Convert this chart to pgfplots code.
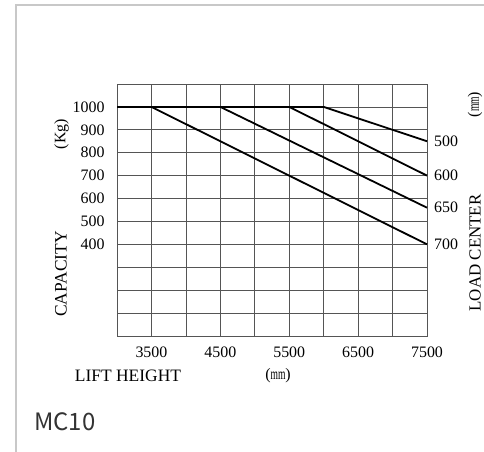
\documentclass[border=0pt]{standalone}
\usepackage{pgfplots}
\pgfplotsset{compat=1.18}
\usepackage{fontspec}
\setmainfont{Liberation Serif}
\newfontfamily\cardfont{Noto Sans CJK SC}
\definecolor{gridc}{HTML}{555555}
\definecolor{cardline}{HTML}{C8C8C8}

\begin{document}
\begin{tikzpicture}[x=1bp,y=1bp]
\path[use as bounding box] (0,0) rectangle (484,452);
% card border
\draw[cardline, line width=1.8bp] (16,0) -- (16,447) -- (484,447);

\begin{axis}[
    at={(117bp,116bp)}, anchor=south west,
    width=310bp, height=252bp, scale only axis,
    xmin=3000, xmax=7500, ymin=0, ymax=1100,
    xtick={3500,4500,5500,6500,7500},
    xticklabels={3500,4500,5500,6500,7500},
    minor xtick={3000,4000,5000,6000,7000},
    ytick={400,500,600,700,800,900,1000},
    yticklabels={400,500,600,700,800,900,1000},
    minor ytick={0,100,200,300,1100},
    grid=both,
    grid style={gridc, line width=0.7bp},
    minor grid style={gridc, line width=0.7bp},
    axis line style={gridc, line width=0.7bp},
    major tick length=0pt, minor tick length=0pt,
    /pgf/number format/assume math mode=true,
    tick label style={font=\fontsize{16}{16}\selectfont},
    yticklabel style={xshift=-9bp},
    xticklabel style={yshift=-7bp},
    clip=false,
]
\addplot[black, line width=1.8bp] coordinates {(3000,1000) (6000,1000)};
\addplot[black, line width=1.8bp] coordinates {(3500,1000) (7500,400)};
\addplot[black, line width=1.8bp] coordinates {(4500,1000) (7500,560)};
\addplot[black, line width=1.8bp] coordinates {(5500,1000) (7500,700)};
\addplot[black, line width=1.8bp] coordinates {(6000,1000) (7500,850)};

\node[anchor=west, font=\fontsize{16}{16}\selectfont, inner sep=0pt] at (axis cs:7500,850) [xshift=7bp] {500};
\node[anchor=west, font=\fontsize{16}{16}\selectfont, inner sep=0pt] at (axis cs:7500,700) [xshift=7bp] {600};
\node[anchor=west, font=\fontsize{16}{16}\selectfont, inner sep=0pt] at (axis cs:7500,560) [xshift=7bp] {650};
\node[anchor=west, font=\fontsize{16}{16}\selectfont, inner sep=0pt] at (axis cs:7500,400) [xshift=7bp] {700};
\end{axis}

% axis titles
\node[rotate=90, font=\fontsize{17.5}{17.5}\selectfont, inner sep=0pt] at (61,178) {CAPACITY};
\node[rotate=90, font=\fontsize{16}{16}\selectfont, inner sep=0pt] at (61.5,318) {(Kg)};
\node[rotate=90, font=\fontsize{17}{17}\selectfont, inner sep=0pt] at (475,199) {LOAD CENTER};
\node[rotate=90, font=\fontsize{16}{16}\selectfont, inner sep=0pt] at (475,347.5) {(\scalebox{0.6}[1]{mm})};
\node[font=\fontsize{17.5}{17.5}\selectfont, inner sep=0pt] at (128,76) {LIFT HEIGHT};
\node[font=\fontsize{16}{16}\selectfont, inner sep=0pt] at (278,76) {(\scalebox{0.6}[1]{mm})};

% card caption
\node[anchor=west, font=\cardfont\fontsize{24}{24}\selectfont, text=black!80, inner sep=0pt] at (34,30) {MC10};
\end{tikzpicture}
\end{document}
